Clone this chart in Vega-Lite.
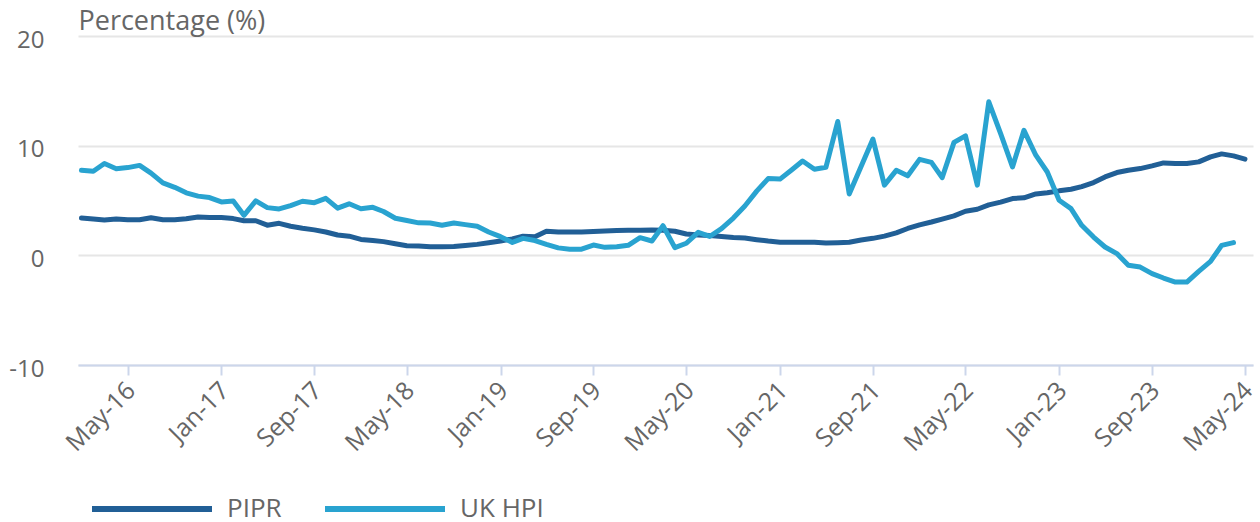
{
  "$schema": "https://vega.github.io/schema/vega-lite/v6.json",
  "width": 1175,
  "height": 329,
  "autosize": "none",
  "padding": {"left": 78, "top": 36, "right": 7, "bottom": 157},
  "background": "white",
  "config": {"view": {"stroke": null}, "font": "Open Sans"},
  "data": {"values": [
    {"date":"2016-01-01","series":"PIPR","value":3.4},
    {"date":"2016-02-01","series":"PIPR","value":3.32},
    {"date":"2016-03-01","series":"PIPR","value":3.23},
    {"date":"2016-04-01","series":"PIPR","value":3.32},
    {"date":"2016-05-01","series":"PIPR","value":3.25},
    {"date":"2016-06-01","series":"PIPR","value":3.25},
    {"date":"2016-07-01","series":"PIPR","value":3.42},
    {"date":"2016-08-01","series":"PIPR","value":3.25},
    {"date":"2016-09-01","series":"PIPR","value":3.25},
    {"date":"2016-10-01","series":"PIPR","value":3.33},
    {"date":"2016-11-01","series":"PIPR","value":3.5},
    {"date":"2016-12-01","series":"PIPR","value":3.45},
    {"date":"2017-01-01","series":"PIPR","value":3.45},
    {"date":"2017-02-01","series":"PIPR","value":3.35},
    {"date":"2017-03-01","series":"PIPR","value":3.15},
    {"date":"2017-04-01","series":"PIPR","value":3.15},
    {"date":"2017-05-01","series":"PIPR","value":2.75},
    {"date":"2017-06-01","series":"PIPR","value":2.92},
    {"date":"2017-07-01","series":"PIPR","value":2.65},
    {"date":"2017-08-01","series":"PIPR","value":2.47},
    {"date":"2017-09-01","series":"PIPR","value":2.32},
    {"date":"2017-10-01","series":"PIPR","value":2.13},
    {"date":"2017-11-01","series":"PIPR","value":1.85},
    {"date":"2017-12-01","series":"PIPR","value":1.75},
    {"date":"2018-01-01","series":"PIPR","value":1.45},
    {"date":"2018-02-01","series":"PIPR","value":1.35},
    {"date":"2018-03-01","series":"PIPR","value":1.25},
    {"date":"2018-04-01","series":"PIPR","value":1.05},
    {"date":"2018-05-01","series":"PIPR","value":0.88},
    {"date":"2018-06-01","series":"PIPR","value":0.85},
    {"date":"2018-07-01","series":"PIPR","value":0.78},
    {"date":"2018-08-01","series":"PIPR","value":0.78},
    {"date":"2018-09-01","series":"PIPR","value":0.8},
    {"date":"2018-10-01","series":"PIPR","value":0.9},
    {"date":"2018-11-01","series":"PIPR","value":1.0},
    {"date":"2018-12-01","series":"PIPR","value":1.15},
    {"date":"2019-01-01","series":"PIPR","value":1.3},
    {"date":"2019-02-01","series":"PIPR","value":1.5},
    {"date":"2019-03-01","series":"PIPR","value":1.75},
    {"date":"2019-04-01","series":"PIPR","value":1.7},
    {"date":"2019-05-01","series":"PIPR","value":2.2},
    {"date":"2019-06-01","series":"PIPR","value":2.13},
    {"date":"2019-07-01","series":"PIPR","value":2.13},
    {"date":"2019-08-01","series":"PIPR","value":2.13},
    {"date":"2019-09-01","series":"PIPR","value":2.17},
    {"date":"2019-10-01","series":"PIPR","value":2.22},
    {"date":"2019-11-01","series":"PIPR","value":2.27},
    {"date":"2019-12-01","series":"PIPR","value":2.28},
    {"date":"2020-01-01","series":"PIPR","value":2.28},
    {"date":"2020-02-01","series":"PIPR","value":2.3},
    {"date":"2020-03-01","series":"PIPR","value":2.28},
    {"date":"2020-04-01","series":"PIPR","value":2.2},
    {"date":"2020-05-01","series":"PIPR","value":1.95},
    {"date":"2020-06-01","series":"PIPR","value":1.85},
    {"date":"2020-07-01","series":"PIPR","value":1.8},
    {"date":"2020-08-01","series":"PIPR","value":1.72},
    {"date":"2020-09-01","series":"PIPR","value":1.62},
    {"date":"2020-10-01","series":"PIPR","value":1.58},
    {"date":"2020-11-01","series":"PIPR","value":1.43},
    {"date":"2020-12-01","series":"PIPR","value":1.3},
    {"date":"2021-01-01","series":"PIPR","value":1.2},
    {"date":"2021-02-01","series":"PIPR","value":1.2},
    {"date":"2021-03-01","series":"PIPR","value":1.2},
    {"date":"2021-04-01","series":"PIPR","value":1.2},
    {"date":"2021-05-01","series":"PIPR","value":1.12},
    {"date":"2021-06-01","series":"PIPR","value":1.15},
    {"date":"2021-07-01","series":"PIPR","value":1.2},
    {"date":"2021-08-01","series":"PIPR","value":1.4},
    {"date":"2021-09-01","series":"PIPR","value":1.55},
    {"date":"2021-10-01","series":"PIPR","value":1.75},
    {"date":"2021-11-01","series":"PIPR","value":2.05},
    {"date":"2021-12-01","series":"PIPR","value":2.45},
    {"date":"2022-01-01","series":"PIPR","value":2.78},
    {"date":"2022-02-01","series":"PIPR","value":3.04},
    {"date":"2022-03-01","series":"PIPR","value":3.3},
    {"date":"2022-04-01","series":"PIPR","value":3.6},
    {"date":"2022-05-01","series":"PIPR","value":4.02},
    {"date":"2022-06-01","series":"PIPR","value":4.2},
    {"date":"2022-07-01","series":"PIPR","value":4.6},
    {"date":"2022-08-01","series":"PIPR","value":4.85},
    {"date":"2022-09-01","series":"PIPR","value":5.18},
    {"date":"2022-10-01","series":"PIPR","value":5.24},
    {"date":"2022-11-01","series":"PIPR","value":5.6},
    {"date":"2022-12-01","series":"PIPR","value":5.7},
    {"date":"2023-01-01","series":"PIPR","value":5.88},
    {"date":"2023-02-01","series":"PIPR","value":6.03},
    {"date":"2023-03-01","series":"PIPR","value":6.27},
    {"date":"2023-04-01","series":"PIPR","value":6.64},
    {"date":"2023-05-01","series":"PIPR","value":7.15},
    {"date":"2023-06-01","series":"PIPR","value":7.55},
    {"date":"2023-07-01","series":"PIPR","value":7.76},
    {"date":"2023-08-01","series":"PIPR","value":7.91},
    {"date":"2023-09-01","series":"PIPR","value":8.16},
    {"date":"2023-10-01","series":"PIPR","value":8.43},
    {"date":"2023-11-01","series":"PIPR","value":8.37},
    {"date":"2023-12-01","series":"PIPR","value":8.37},
    {"date":"2024-01-01","series":"PIPR","value":8.52},
    {"date":"2024-02-01","series":"PIPR","value":8.98},
    {"date":"2024-03-01","series":"PIPR","value":9.25},
    {"date":"2024-04-01","series":"PIPR","value":9.07},
    {"date":"2024-05-01","series":"PIPR","value":8.77},
    {"date":"2016-01-01","series":"UK HPI","value":7.76},
    {"date":"2016-02-01","series":"UK HPI","value":7.67},
    {"date":"2016-03-01","series":"UK HPI","value":8.37},
    {"date":"2016-04-01","series":"UK HPI","value":7.9},
    {"date":"2016-05-01","series":"UK HPI","value":8.0},
    {"date":"2016-06-01","series":"UK HPI","value":8.2},
    {"date":"2016-07-01","series":"UK HPI","value":7.5},
    {"date":"2016-08-01","series":"UK HPI","value":6.6},
    {"date":"2016-09-01","series":"UK HPI","value":6.2},
    {"date":"2016-10-01","series":"UK HPI","value":5.7},
    {"date":"2016-11-01","series":"UK HPI","value":5.4},
    {"date":"2016-12-01","series":"UK HPI","value":5.27},
    {"date":"2017-01-01","series":"UK HPI","value":4.87},
    {"date":"2017-02-01","series":"UK HPI","value":4.96},
    {"date":"2017-03-01","series":"UK HPI","value":3.65},
    {"date":"2017-04-01","series":"UK HPI","value":4.96},
    {"date":"2017-05-01","series":"UK HPI","value":4.35},
    {"date":"2017-06-01","series":"UK HPI","value":4.23},
    {"date":"2017-07-01","series":"UK HPI","value":4.54},
    {"date":"2017-08-01","series":"UK HPI","value":4.93},
    {"date":"2017-09-01","series":"UK HPI","value":4.8},
    {"date":"2017-10-01","series":"UK HPI","value":5.2},
    {"date":"2017-11-01","series":"UK HPI","value":4.3},
    {"date":"2017-12-01","series":"UK HPI","value":4.7},
    {"date":"2018-01-01","series":"UK HPI","value":4.25},
    {"date":"2018-02-01","series":"UK HPI","value":4.38},
    {"date":"2018-03-01","series":"UK HPI","value":4.0},
    {"date":"2018-04-01","series":"UK HPI","value":3.38},
    {"date":"2018-05-01","series":"UK HPI","value":3.17},
    {"date":"2018-06-01","series":"UK HPI","value":2.96},
    {"date":"2018-07-01","series":"UK HPI","value":2.95},
    {"date":"2018-08-01","series":"UK HPI","value":2.74},
    {"date":"2018-09-01","series":"UK HPI","value":2.95},
    {"date":"2018-10-01","series":"UK HPI","value":2.8},
    {"date":"2018-11-01","series":"UK HPI","value":2.65},
    {"date":"2018-12-01","series":"UK HPI","value":2.13},
    {"date":"2019-01-01","series":"UK HPI","value":1.7},
    {"date":"2019-02-01","series":"UK HPI","value":1.18},
    {"date":"2019-03-01","series":"UK HPI","value":1.55},
    {"date":"2019-04-01","series":"UK HPI","value":1.35},
    {"date":"2019-05-01","series":"UK HPI","value":1.0},
    {"date":"2019-06-01","series":"UK HPI","value":0.68},
    {"date":"2019-07-01","series":"UK HPI","value":0.56},
    {"date":"2019-08-01","series":"UK HPI","value":0.56},
    {"date":"2019-09-01","series":"UK HPI","value":0.94},
    {"date":"2019-10-01","series":"UK HPI","value":0.73},
    {"date":"2019-11-01","series":"UK HPI","value":0.79},
    {"date":"2019-12-01","series":"UK HPI","value":0.91},
    {"date":"2020-01-01","series":"UK HPI","value":1.61},
    {"date":"2020-02-01","series":"UK HPI","value":1.31},
    {"date":"2020-03-01","series":"UK HPI","value":2.7},
    {"date":"2020-04-01","series":"UK HPI","value":0.7},
    {"date":"2020-05-01","series":"UK HPI","value":1.1},
    {"date":"2020-06-01","series":"UK HPI","value":2.1},
    {"date":"2020-07-01","series":"UK HPI","value":1.72},
    {"date":"2020-08-01","series":"UK HPI","value":2.44},
    {"date":"2020-09-01","series":"UK HPI","value":3.4},
    {"date":"2020-10-01","series":"UK HPI","value":4.5},
    {"date":"2020-11-01","series":"UK HPI","value":5.85},
    {"date":"2020-12-01","series":"UK HPI","value":7.0},
    {"date":"2021-01-01","series":"UK HPI","value":6.95},
    {"date":"2021-02-01","series":"UK HPI","value":7.8},
    {"date":"2021-03-01","series":"UK HPI","value":8.6},
    {"date":"2021-04-01","series":"UK HPI","value":7.85},
    {"date":"2021-05-01","series":"UK HPI","value":8.03},
    {"date":"2021-06-01","series":"UK HPI","value":12.2},
    {"date":"2021-07-01","series":"UK HPI","value":5.6},
    {"date":"2021-08-01","series":"UK HPI","value":8.1},
    {"date":"2021-09-01","series":"UK HPI","value":10.6},
    {"date":"2021-10-01","series":"UK HPI","value":6.4},
    {"date":"2021-11-01","series":"UK HPI","value":7.75},
    {"date":"2021-12-01","series":"UK HPI","value":7.25},
    {"date":"2022-01-01","series":"UK HPI","value":8.75},
    {"date":"2022-02-01","series":"UK HPI","value":8.48},
    {"date":"2022-03-01","series":"UK HPI","value":7.08},
    {"date":"2022-04-01","series":"UK HPI","value":10.3},
    {"date":"2022-05-01","series":"UK HPI","value":10.9},
    {"date":"2022-06-01","series":"UK HPI","value":6.4},
    {"date":"2022-07-01","series":"UK HPI","value":14.0},
    {"date":"2022-08-01","series":"UK HPI","value":11.1},
    {"date":"2022-09-01","series":"UK HPI","value":8.06},
    {"date":"2022-10-01","series":"UK HPI","value":11.4},
    {"date":"2022-11-01","series":"UK HPI","value":9.13},
    {"date":"2022-12-01","series":"UK HPI","value":7.6},
    {"date":"2023-01-01","series":"UK HPI","value":5.02},
    {"date":"2023-02-01","series":"UK HPI","value":4.26},
    {"date":"2023-03-01","series":"UK HPI","value":2.74},
    {"date":"2023-04-01","series":"UK HPI","value":1.67},
    {"date":"2023-05-01","series":"UK HPI","value":0.76},
    {"date":"2023-06-01","series":"UK HPI","value":0.16},
    {"date":"2023-07-01","series":"UK HPI","value":-0.91},
    {"date":"2023-08-01","series":"UK HPI","value":-1.07},
    {"date":"2023-09-01","series":"UK HPI","value":-1.67},
    {"date":"2023-10-01","series":"UK HPI","value":-2.07},
    {"date":"2023-11-01","series":"UK HPI","value":-2.44},
    {"date":"2023-12-01","series":"UK HPI","value":-2.44},
    {"date":"2024-01-01","series":"UK HPI","value":-1.46},
    {"date":"2024-02-01","series":"UK HPI","value":-0.55},
    {"date":"2024-03-01","series":"UK HPI","value":0.91},
    {"date":"2024-04-01","series":"UK HPI","value":1.16}
  ]},
  "mark": {"type": "line", "strokeWidth": 5, "strokeJoin": "round", "strokeCap": "round"},
  "encoding": {
    "x": {
      "field": "date", "type": "temporal",
      "scale": {"type": "utc", "domain": [{"year": 2015, "month": 12, "date": 23, "utc": true}, {"year": 2024, "month": 5, "date": 22, "utc": true}]},
      "axis": {
        "values": [
          {"year": 2016, "month": 5, "date": 1, "utc": true},
          {"year": 2017, "month": 1, "date": 1, "utc": true},
          {"year": 2017, "month": 9, "date": 1, "utc": true},
          {"year": 2018, "month": 5, "date": 1, "utc": true},
          {"year": 2019, "month": 1, "date": 1, "utc": true},
          {"year": 2019, "month": 9, "date": 1, "utc": true},
          {"year": 2020, "month": 5, "date": 1, "utc": true},
          {"year": 2021, "month": 1, "date": 1, "utc": true},
          {"year": 2021, "month": 9, "date": 1, "utc": true},
          {"year": 2022, "month": 5, "date": 1, "utc": true},
          {"year": 2023, "month": 1, "date": 1, "utc": true},
          {"year": 2023, "month": 9, "date": 1, "utc": true},
          {"year": 2024, "month": 5, "date": 1, "utc": true}
        ],
        "labelExpr": "utcFormat(datum.value, '%b-%y')",
        "labelAngle": -45, "labelAlign": "right", "labelBaseline": "middle",
        "labelFontSize": 25, "labelColor": "#666666", "labelPadding": 11, "labelOffset": 3,
        "labelOverlap": false, "labelFlush": false,
        "domainColor": "#ccd6eb", "domainWidth": 2,
        "tickColor": "#ccd6eb", "tickWidth": 2, "tickSize": 10,
        "grid": false, "title": null
      }
    },
    "y": {
      "field": "value", "type": "quantitative",
      "scale": {"domain": [-10, 20], "nice": false, "zero": false},
      "axis": {
        "values": [-10, 0, 10, 20],
        "labelExpr": "'' + datum.value",
        "grid": true, "gridColor": "#e6e6e6", "gridWidth": 2,
        "domain": false, "ticks": false,
        "labelFontSize": 24, "labelColor": "#666666", "labelPadding": 34, "labelOffset": 4,
        "title": "Percentage (%)", "titleAngle": 0, "titleX": 0, "titleY": -7,
        "titleAlign": "left", "titleBaseline": "alphabetic",
        "titleFontSize": 27, "titleFontWeight": "normal", "titleColor": "#666666"
      }
    },
    "color": {
      "field": "series", "type": "nominal",
      "scale": {"domain": ["PIPR", "UK HPI"], "range": ["#215f96", "#29a3d0"]},
      "legend": {
        "orient": "none", "legendX": 11, "legendY": 410, "direction": "horizontal",
        "title": null, "symbolType": "stroke", "symbolSize": 14400, "symbolStrokeWidth": 6,
        "labelFontSize": 26, "labelColor": "#666666", "labelOffset": 12, "columnPadding": 31
      }
    }
  }
}
